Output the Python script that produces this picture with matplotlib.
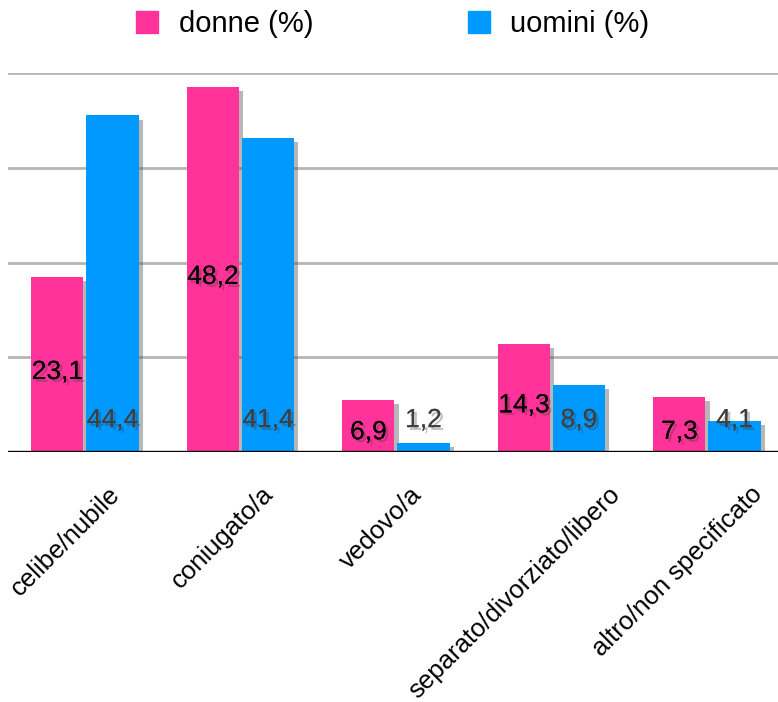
import numpy as np
import matplotlib
matplotlib.use("Agg")
import matplotlib.pyplot as plt
import matplotlib.patheffects as pe
from matplotlib.patches import Patch
from matplotlib.transforms import ScaledTranslation

plt.rcParams["font.family"] = ["Liberation Sans", "DejaVu Sans"]

categories = [
    "celibe/nubile",
    "coniugato/a",
    "vedovo/a",
    "separato/divorziato/libero",
    "altro/non specificato",
]
donne = [23.1, 48.2, 6.9, 14.3, 7.3]
uomini = [44.4, 41.4, 1.2, 8.9, 4.1]

PINK = "#FF3399"
BLUE = "#0099FF"

DPI = 100
fig = plt.figure(figsize=(7.78, 7.02), dpi=DPI)
ax = fig.add_axes([8 / 778, 250 / 702, 770 / 778, 379 / 702])

x = np.arange(len(categories))
width = 0.335
off = 0.177

bar_shadow = [pe.withSimplePatchShadow(offset=(3, -3), shadow_rgbFace="0.3", alpha=0.4)]
bars_d = ax.bar(x - off, donne, width, color=PINK, zorder=3)
bars_u = ax.bar(x + off, uomini, width, color=BLUE, zorder=3)
for b in list(bars_d) + list(bars_u):
    b.set_path_effects(bar_shadow)

ax.set_xlim(-0.495, 4.457)
ax.set_ylim(0, 50)

# horizontal grid every 12.5, no y labels
for yv in [12.5, 25, 37.5, 50]:
    ax.axhline(yv, color="#B5B5B5", lw=2, zorder=1)
ax.axhline(0, color="black", lw=2.4, zorder=5)

for s in ax.spines.values():
    s.set_visible(False)
ax.set_xticks([])
ax.set_yticks([])

# value labels
txt_shadow = [pe.withSimplePatchShadow(offset=(2, -2), shadow_rgbFace="0.2", alpha=0.3), pe.Normal()]
for i, v in enumerate(donne):
    ax.text(x[i] - off, max(v / 2 - 1.0, 2.6), f"{v:.1f}".replace(".", ","),
            ha="center", va="center", fontsize=19, color="black",
            path_effects=txt_shadow, zorder=6)
for i, v in enumerate(uomini):
    ax.text(x[i] + off, 4.2, f"{v:.1f}".replace(".", ","),
            ha="center", va="center", fontsize=19, color="#404040",
            path_effects=txt_shadow, zorder=6)

# rotated category labels
base = ax.get_xaxis_transform() + ScaledTranslation(0, -30 / DPI, fig.dpi_scale_trans)
labels = []
for i, c in enumerate(categories):
    t = ax.text(x[i], 0, c, rotation=45, ha="center", va="top",
                fontsize=18.5, transform=base)
    labels.append(t)

# legend
handles = [Patch(color=PINK, label="donne (%)"), Patch(color=BLUE, label="uomini (%)")]
fig.legend(handles=handles, loc="center", bbox_to_anchor=(0.505, 1 - 24 / 702),
           ncol=2, frameon=False, fontsize=21, handlelength=0.75, handleheight=0.75,
           handletextpad=0.7, columnspacing=5.3)

fig.canvas.draw()
renderer = fig.canvas.get_renderer()
for t in labels:
    w = t.get_window_extent(renderer).width
    t.set_transform(base + ScaledTranslation(-0.165 * w / DPI, 0, fig.dpi_scale_trans))

fig.savefig("out.png", dpi=DPI)
